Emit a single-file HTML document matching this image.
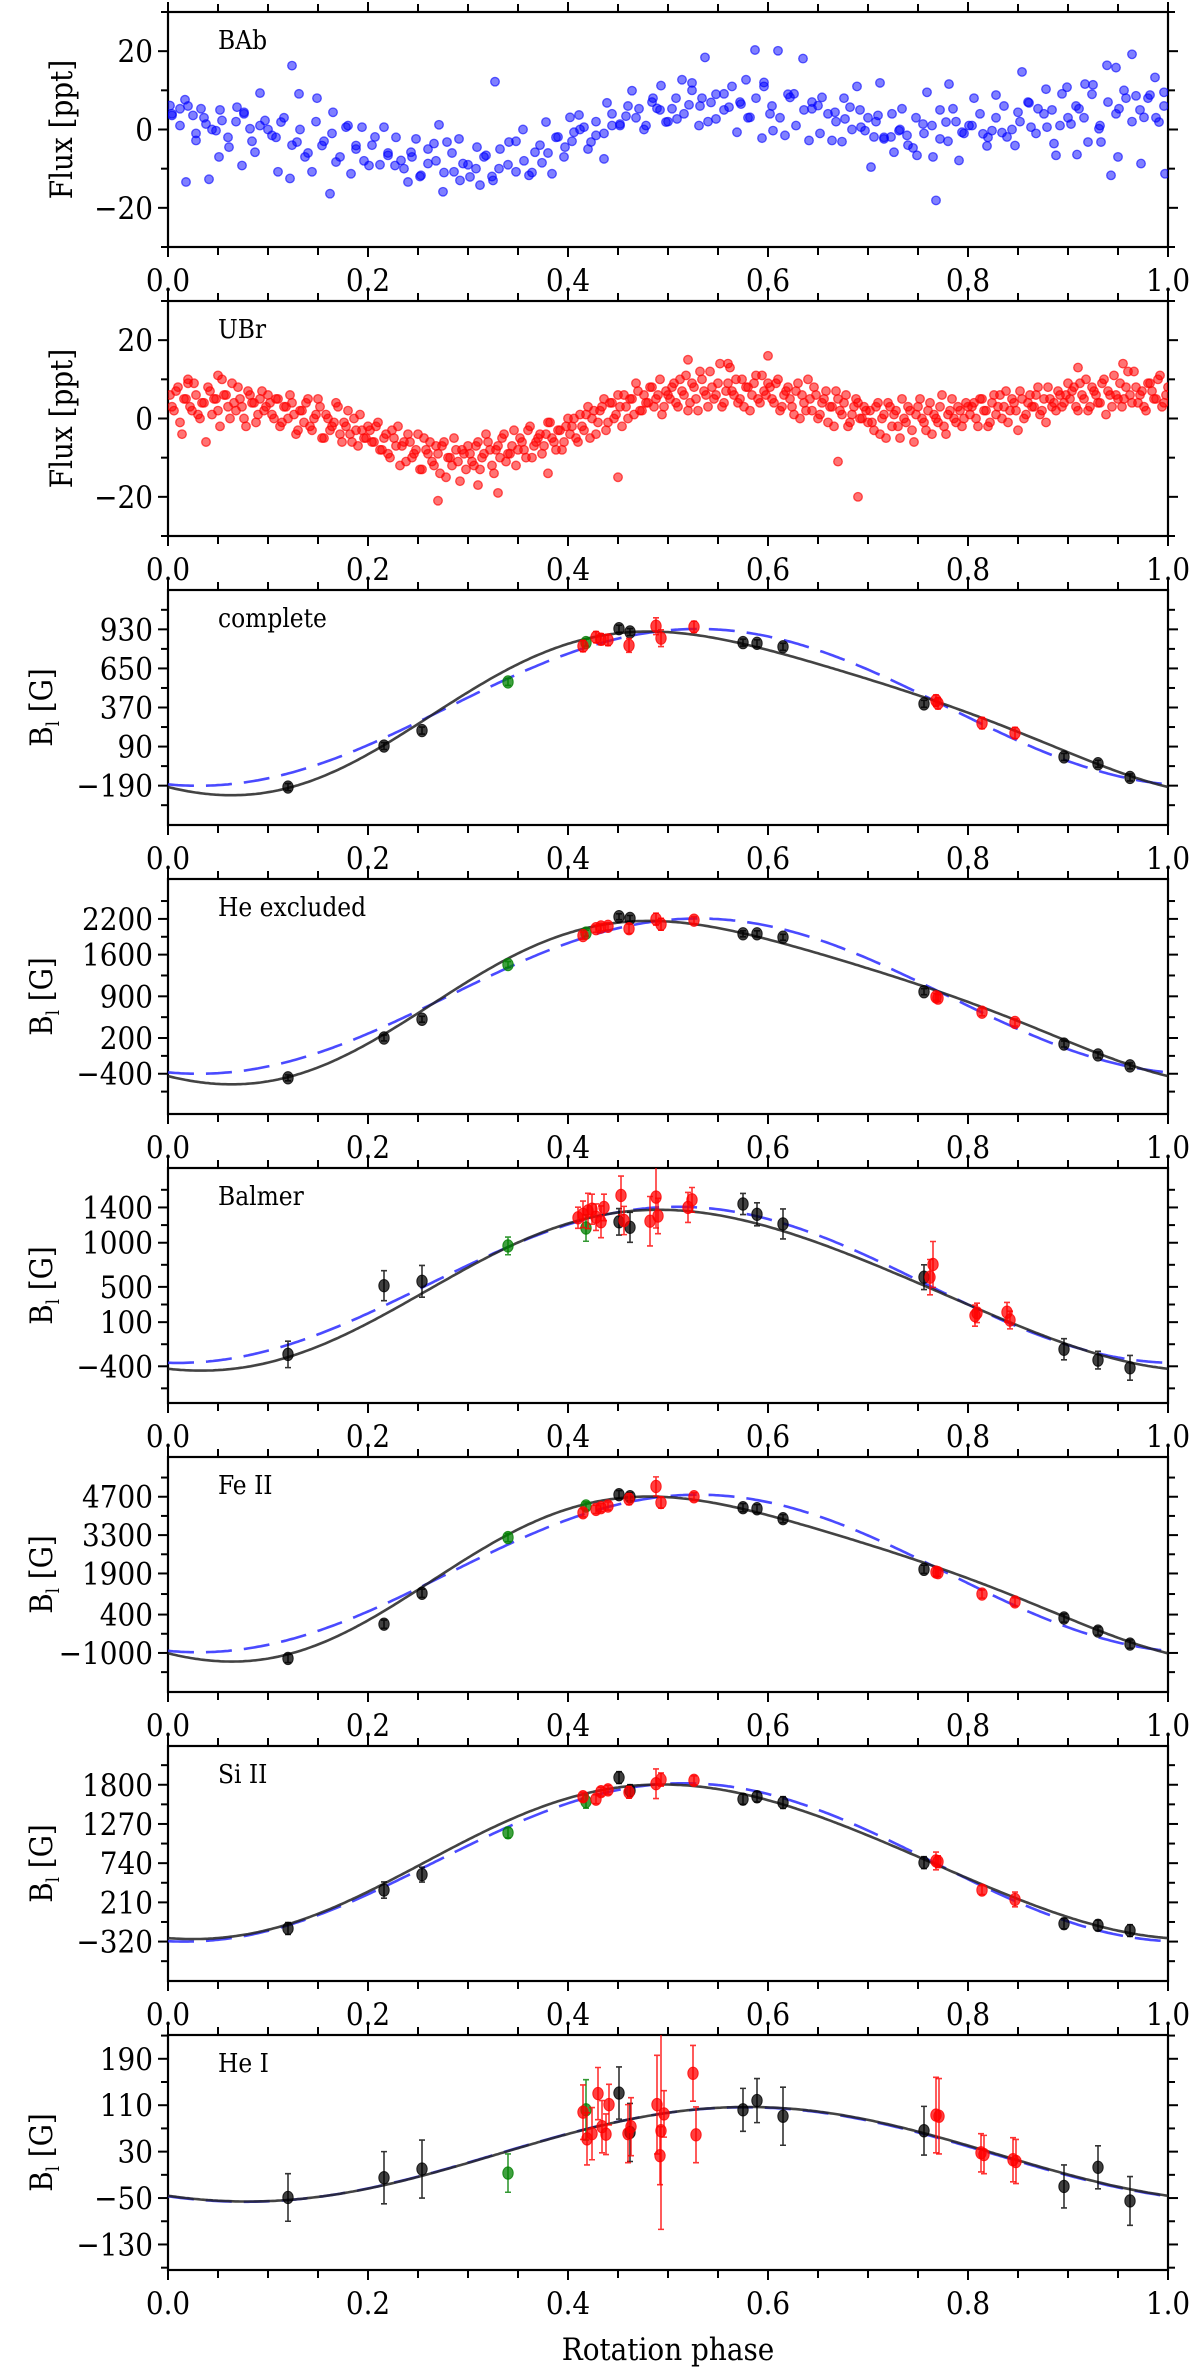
<!DOCTYPE html>
<html><head><meta charset="utf-8"><style>
html,body{margin:0;padding:0;background:#fff;}
svg{display:block;font-family:"DejaVu Serif Condensed","DejaVu Serif","Liberation Serif",serif;}
</style></head><body>
<svg id="fig" width="1200" height="2370" viewBox="0 0 1200 2370" xmlns="http://www.w3.org/2000/svg"></svg>
<script>
// ---------- DATA ----------
const xTickLabels = ["0.0","0.2","0.4","0.6","0.8","1.0"];
const panelNames = ["BAb","UBr","complete","He excluded","Balmer","Fe II","Si II","He I"];
const fluxTicks = [-20,0,20];
const fluxTickLabels = ["\u221220","0","20"];

// BAb photometry (phase, flux ppt)
const babPhase = [0.002,0.004,0.017,0.012,0.018,0.025,0.028,0.033,0.038,0.041,0.048,0.051,0.054,0.061,0.069,0.074,0.076,0.082,0.087,0.092,0.097,0.104,0.11,0.113,0.122,0.124,0.129,0.131,0.137,0.144,0.149,0.154,0.162,0.165,0.168,0.178,0.183,0.188,0.194,0.201,0.207,0.216,0.22,0.227,0.233,0.24,0.243,0.248,0.253,0.26,0.266,0.271,0.275,0.279,0.286,0.291,0.295,0.302,0.309,0.312,0.318,0.325,0.327,0.331,0.341,0.348,0.355,0.361,0.367,0.374,0.378,0.384,0.39,0.397,0.402,0.406,0.411,0.416,0.423,0.428,0.436,0.439,0.444,0.452,0.458,0.464,0.471,0.478,0.485,0.489,0.493,0.498,0.504,0.509,0.514,0.521,0.524,0.531,0.534,0.537,0.543,0.548,0.556,0.561,0.569,0.573,0.578,0.582,0.587,0.594,0.596,0.602,0.605,0.61,0.617,0.622,0.626,0.635,0.641,0.644,0.65,0.654,0.664,0.667,0.674,0.677,0.682,0.689,0.693,0.697,0.703,0.706,0.71,0.712,0.716,0.723,0.726,0.731,0.734,0.739,0.745,0.749,0.755,0.759,0.765,0.768,0.772,0.778,0.781,0.785,0.791,0.794,0.801,0.806,0.815,0.819,0.824,0.828,0.834,0.839,0.847,0.85,0.854,0.861,0.863,0.87,0.878,0.879,0.886,0.888,0.894,0.899,0.903,0.909,0.911,0.917,0.92,0.925,0.931,0.933,0.939,0.943,0.948,0.95,0.951,0.958,0.964,0.968,0.973,0.976,0.982,0.987,0.991,0.996,0.997];
const babFlux = [6.1,3.6,7.6,5.3,-13.4,3.6,-2.8,5.3,1.4,-12.7,-0.3,-7.0,2.3,-4.5,5.7,-9.2,4.4,0.2,-5.8,9.3,2.3,-1.5,-10.8,1.9,-12.5,16.3,-3.2,9.1,-7.0,-10.8,8.0,-4.1,-16.4,4.4,-8.3,0.6,-11.3,-4.1,0.6,-9.2,-1.9,0.6,-6.6,-9.2,-7.9,-13.4,-5.8,-2.4,-11.7,-8.7,-3.6,1.2,-15.9,-3.2,-10.8,-2.4,-8.7,-12.1,-4.5,-14.2,-6.6,-13.0,12.2,-10.0,-3.2,-10.8,0.0,-11.7,-5.8,-8.5,1.9,-11.3,-1.9,-4.5,3.1,-0.7,3.7,0.6,-3.2,-1.5,-7.5,6.8,1.0,1.4,3.4,9.9,5.3,1.0,8.0,5.4,11.2,1.9,5.3,2.7,12.7,6.3,11.9,1.0,8.0,18.4,6.9,2.7,9.1,5.7,-0.7,6.5,12.7,3.1,20.3,-2.2,11.0,4.0,-0.3,20.1,-1.5,8.2,9.1,18.1,-2.8,5.3,6.1,8.2,-2.8,4.4,-3.1,2.7,5.7,11.0,0.6,-0.3,-9.6,-1.9,3.6,11.9,-2.4,-1.9,-5.8,-0.3,5.3,-1.5,-4.7,-6.6,1.4,9.5,-7.0,-18.1,-2.4,1.9,11.6,5.3,-7.9,-0.7,1.0,8.0,-1.1,-4.2,-0.3,8.8,-0.8,-1.9,-4.1,4.4,14.7,6.8,0.6,5.3,10.3,0.6,-3.6,-6.6,9.1,10.8,1.4,-6.4,5.3,11.6,-3.2,11.4,0.2,-3.2,16.4,-11.7,15.8,-7.0,5.3,8.0,19.2,8.6,-8.7,3.1,8.8,13.3,1.9,9.5,-11.3];
// BAb second, evenly sampled pass
const babStartB = 0.004, babStepB = 0.008;
const babFluxB = [4,1,6,-1,3,0,5,-2,2,4,-3,1,0,
-2,3,-4,0,-6,2,-3,-1,-7,1,-5,-8,
-4,-9,-6,-2,-10,-7,-12,-5,-8,-11,-6,-13,-9,
-10,-7,-12,-5,-9,-3,-8,-11,-4,-6,-2,-7,
-3,0,-5,2,-1,4,1,6,3,0,7,5,2,
8,4,10,6,2,9,5,11,7,3,8,12,
6,3,9,1,5,7,-1,4,2,8,0,5,3,
2,-2,4,0,-4,3,-1,1,5,-3,2,-1,
1,4,-2,3,6,0,2,7,-1,4,5,1,3,
6,3,9,1,7,4,10,2,5,8,3,6];

// UBr photometry: two interleaved passes (phase start, step) + flux per point, plus outliers
const ubrStartA = 0.002, ubrStartB = 0.004, ubrStep = 0.004;
const ubrFluxA = [6,2,8,-4,5,3,9,1,4,-6,7,5,2,10,6,0,4,8,3,-2,6,4,1,7,3,
4,0,5,-1,3,6,1,-3,2,4,-2,0,5,-5,1,-3,-1,3,-6,-2,-4,0,-7,-3,-5,
-3,-6,-1,-8,-4,-10,-5,-2,-7,-11,-6,-9,-4,-13,-8,-6,-12,-9,-7,-15,-10,-5,-11,-8,-13,
-9,-12,-6,-10,-4,-8,-14,-7,-5,-11,-9,-3,-8,-6,-10,-2,-7,-5,-9,-4,-1,-6,-3,-8,-2,
-4,0,-6,-2,1,-5,2,-1,3,-3,4,0,6,-2,3,5,1,7,2,4,8,3,6,1,7,
5,9,3,7,11,4,8,2,10,6,12,5,9,3,7,13,6,4,10,8,2,9,5,11,6,
8,4,10,3,7,5,1,9,6,2,5,8,0,4,7,3,-2,5,1,6,-1,3,4,0,2,
2,-3,4,0,-5,3,1,-2,5,-1,2,-6,3,0,-3,4,1,-1,6,-4,2,0,3,-2,4,
1,4,-2,5,2,-1,6,3,0,7,2,4,-3,5,1,6,3,8,2,-1,5,4,7,3,6,
5,8,2,6,10,3,7,4,9,1,6,11,5,3,8,6,12,4,7,2,9,5,10,3,6];
const ubrFluxB = [3,7,-1,5,9,2,6,0,4,8,1,5,-2,6,3,9,2,5,0,7,4,-1,5,2,6,
1,5,-2,3,0,4,-4,2,-1,5,-3,1,3,-5,0,-2,4,-4,-1,2,-6,-3,1,-5,-2,
-6,-2,-8,-5,-9,-3,-7,-12,-6,-4,-10,-8,-13,-5,-9,-11,-7,-14,-6,-10,-12,-8,-16,-9,-7,
-11,-7,-13,-9,-6,-12,-8,-10,-4,-9,-7,-12,-5,-8,-3,-10,-6,-4,-7,-1,-5,-8,-3,-6,0,
-2,-5,1,-3,3,0,-4,2,5,-1,4,1,3,6,0,5,9,2,6,4,8,5,10,3,6,
8,4,10,6,2,9,5,12,7,3,8,6,14,4,9,7,10,5,3,8,6,11,4,7,9,
5,9,2,6,8,3,7,0,4,10,2,6,1,5,-1,3,7,2,4,-2,1,5,0,3,-1,
-1,3,-4,1,4,-2,2,-5,0,3,-3,1,5,-1,2,-4,0,3,-2,1,5,-1,2,0,3,
3,0,5,2,-2,4,1,6,3,-1,5,2,7,0,4,3,6,1,5,8,3,2,6,4,9,
7,3,9,5,2,8,6,4,10,7,3,6,9,5,12,4,8,6,3,9,7,5,11,4,8];
const ubrOutPhase = [0.27,0.33,0.31,0.45,0.69,0.52,0.6,0.56,0.91,0.955,0.67,0.38,0.05,0.02];
const ubrOutFlux = [-21,-19,-17,-15,-20,15,16,14,13,14,-11,-14,11,10];

// Magnetic field panels
const bTickLabels = [
  [930,650,370,90,-190],
  [2200,1600,900,200,-400],
  [1400,1000,500,100,-400],
  [4700,3300,1900,400,-1000],
  [1800,1270,740,210,-320],
  [190,110,30,-50,-130]];
const bDomains = [[-472,1212],[-1076,2870],[-816,1847],[-2425,6150],[-853,2324],[-174,231]];

const blackPhase = [0.12,0.216,0.254,0.451,0.462,0.575,0.589,0.615,0.756,0.896,0.93,0.962];
const greenPhase = [0.34,0.418];
const redPhaseMain = [0.415,0.428,0.433,0.44,0.461,0.488,0.493,0.526,0.768,0.77,0.814,0.847];

const blackVal = [
  [-200,94,205,935,911,835,830,805,396,16,-33,-131],
  [-469,200,515,2236,2207,1950,1950,1892,977,99,-84,-268],
  [-265,513,563,1237,1175,1439,1322,1213,610,-207,-330,-417],
  [-1200,50,1175,4775,4700,4300,4262,3900,2050,275,-200,-675],
  [-143,376,585,1897,1721,1605,1638,1559,747,-78,-101,-171],
  [-49,-15,0,131,63,102,118,91,66,-30,3,-55]];
const blackErr = [
  [25,25,25,25,25,25,25,25,25,25,25,25],
  [50,50,50,50,50,50,50,50,50,50,50,50],
  [150,170,180,150,170,120,130,170,140,120,100,140],
  [150,150,150,150,150,150,150,150,150,150,150,150],
  [80,110,100,80,80,70,70,80,80,70,70,80],
  [41,45,50,45,50,37,38,50,42,37,37,42]];
const greenVal = [[553,835],[1433,1961],[964,1167],[3212,4362],[1151,1573],[-7,102]];
const greenErr = [[25,25],[50,50],[100,150],[150,150],[70,90],[33,52]];

const redPhase = [
  redPhaseMain, redPhaseMain,
  [0.41,0.415,0.42,0.424,0.428,0.433,0.436,0.453,0.456,0.482,0.488,0.49,0.52,0.524,0.762,0.765,0.807,0.809,0.839,0.842],
  redPhaseMain, redPhaseMain,
  [0.415,0.419,0.424,0.43,0.434,0.438,0.441,0.46,0.463,0.489,0.493,0.492,0.496,0.525,0.528,0.768,0.771,0.813,0.816,0.845,0.848]];
const redVal = [
  [810,874,859,854,815,953,867,948,420,400,258,187],
  [1920,2035,2064,2075,2035,2196,2110,2179,891,870,633,461],
  [1283,1322,1360,1380,1290,1237,1400,1536,1252,1244,1517,1303,1400,1486,610,754,174,205,213,124],
  [4112,4237,4300,4362,4612,5075,4487,4700,1950,1930,1150,862],
  [1638,1605,1707,1731,1698,1814,1870,1860,770,760,376,250],
  [98,52,61,130,73,60,111,61,73,111,66,23,95,165,59,93,91,28,25,16,13]];
const redErr = [
  [40,40,40,40,50,60,60,40,40,40,40,40],
  [60,60,60,60,80,100,100,60,60,60,60,60],
  [120,150,200,170,150,180,150,220,160,280,350,200,170,140,200,260,120,110,110,100],
  [150,150,150,150,200,350,200,150,150,150,150,150],
  [60,60,60,60,80,200,90,60,120,80,60,100],
  [47,45,45,45,45,35,35,50,50,85,170,50,40,48,48,65,65,33,33,38,38]];

// Model fits: [c0, c1(cos), s1(sin), c2(cos2), s2(sin2)]
const fitBlack = [
  [355,-555,-103,0,-87],
  [858,-1298,-241,0,-204],
  [472,-900,-72,0,-63],
  [1836,-2848,-530,0,-447],
  [765,-1038,-62,0,-52],
  [25.5,-71.5,-39,0,0]];
const fitBlue = [
  [371,-552,-105],
  [903,-1280,-246],
  [523,-883,-53],
  [1900,-2823,-541],
  [750,-1065,-107],
  [25,-72,-38]];

// ---------- LAYOUT ----------
const NS = "http://www.w3.org/2000/svg";
const svg = document.getElementById("fig");
const L = 168, R = 1168, PH = 235, PITCH = 289, TOP0 = 12;
function mk(tag, attrs, parent){ const e=document.createElementNS(NS,tag); for(const k in attrs) e.setAttribute(k,attrs[k]); (parent||svg).appendChild(e); return e; }
function xs(p){ return L + p*(R-L); }

function drawAxes(i, yDom, majors, labels, minors, g){
  const top = TOP0 + i*PITCH, bot = top + PH;
  const ys = v => bot - (v - yDom[0])/(yDom[1]-yDom[0])*PH;
  for(let k=0;k<=20;k++){
    const p=k*0.05, x=xs(p), major=(k%4===0), len=major?10:8;
    const t1=mk("line",{x1:x,x2:x,y1:bot,y2:bot+len,stroke:"#000","stroke-width":2},g);
    
    
    const t2=mk("line",{x1:x,x2:x,y1:top,y2:top-len,stroke:"#000","stroke-width":2},g);
    
    
  }
  xTickLabels.forEach((s,k)=>{
    const t=mk("text",{x:xs(k*0.2),y:bot+44,"text-anchor":"middle","font-size":31},g);
    t.textContent=s;
    
    
  });
  minors.forEach(v=>{ if(v<yDom[0]||v>yDom[1]) return; const y=ys(v);
    const a=mk("line",{x1:L-7,x2:L,y1:y,y2:y,stroke:"#000","stroke-width":2},g);
    
    
    const b=mk("line",{x1:R,x2:R+7,y1:y,y2:y,stroke:"#000","stroke-width":2},g);
    
    
  });
  majors.forEach((v,k)=>{ const y=ys(v);
    const a=mk("line",{x1:L-10,x2:L,y1:y,y2:y,stroke:"#000","stroke-width":2},g);
    
    
    const b=mk("line",{x1:R,x2:R+10,y1:y,y2:y,stroke:"#000","stroke-width":2},g);
    
    
    const t=mk("text",{x:L-15,y:y+11,"text-anchor":"end","font-size":31},g);
    t.textContent=labels[k];
    
    
  });
  const fr=mk("rect",{x:L,y:top,width:R-L,height:PH,fill:"none",stroke:"#000","stroke-width":2.2},g);
  
  
  const nm=mk("text",{x:218,y:top+37,"font-size":26},g);
  nm.textContent=panelNames[i];
  
  
  return ys;
}

function clipFor(i){
  const top = TOP0 + i*PITCH;
  const cp=mk("clipPath",{id:"clip"+i});
  mk("rect",{x:L,y:top,width:R-L,height:PH},cp);
  return "url(#clip"+i+")";
}

// ---------- FLUX PANELS ----------
function fluxPanel(i, name, color, phases, fluxes, op){
  const g=mk("g",{});
  
  
  const ys=drawAxes(i,[-30,30],fluxTicks,fluxTickLabels,[-30,-10,10,30],g);
  const top = TOP0 + i*PITCH;
  const yl=mk("text",{x:0,y:0,"font-size":31,"text-anchor":"middle",transform:`translate(72,${top+PH/2}) rotate(-90)`},g);
  yl.textContent="Flux [ppt]";
  
  
  const pts=mk("g",{"clip-path":clipFor(i)},g);
  phases.forEach((p,k)=>{
    const c=mk("circle",{cx:xs(p),cy:ys(fluxes[k]),r:4.3,fill:color,"fill-opacity":op,stroke:color,"stroke-opacity":op+0.1,"stroke-width":1.3},pts);
    
    
  });
}
const babP = babPhase.slice(), babF = babFlux.slice();
babFluxB.forEach((f,k)=>{babP.push(babStartB+k*babStepB); babF.push(f);});
fluxPanel(0,"bab-panel","#0000ff",babP,babF,0.5);
const ubrP=[], ubrF=[];
ubrFluxA.forEach((f,k)=>{ubrP.push(ubrStartA+k*ubrStep); ubrF.push(f);});
ubrFluxB.forEach((f,k)=>{ubrP.push(ubrStartB+k*ubrStep); ubrF.push(f);});
ubrOutPhase.forEach((p,k)=>{ubrP.push(p); ubrF.push(ubrOutFlux[k]);});
fluxPanel(1,"ubr-panel","#ff0000",ubrP,ubrF,0.55);

// ---------- FIELD PANELS ----------
function evalFit(c,p){ const x=2*Math.PI*p; return c[0]+c[1]*Math.cos(x)+c[2]*Math.sin(x)+(c[3]||0)*Math.cos(2*x)+(c[4]||0)*Math.sin(2*x); }
function pointsWithErr(grp, phases, vals, errs, ys, fill, name){
  phases.forEach((p,k)=>{
    const x=xs(p), y=ys(vals[k]), y1=ys(vals[k]-errs[k]), y2=ys(vals[k]+errs[k]);
    const e=mk("path",{d:`M${x},${y1}V${y2}M${x-3},${y1}H${x+3}M${x-3},${y2}H${x+3}`,stroke:fill,"stroke-width":1.6,fill:"none","stroke-opacity":0.8},grp);
    
    
    const c=mk("ellipse",{cx:x,cy:y,rx:5.2,ry:6.2,fill:fill,"fill-opacity":0.75,stroke:fill,"stroke-opacity":0.8,"stroke-width":1},grp);
    
    
  });
}
for(let j=0;j<6;j++){
  const i=j+2, g=mk("g",{});
  
  
  const t=bTickLabels[j], dom=bDomains[j];
  const minors=[];
  for(let k=0;k<t.length-1;k++) minors.push((t[k]+t[k+1])/2);
  minors.push(t[0]+(t[0]-t[1])/2); minors.push(t[t.length-1]-(t[t.length-2]-t[t.length-1])/2);
  const labels=t.map(v=>v<0?"\u2212"+(-v):String(v));
  const ys=drawAxes(i,dom,t,labels,minors,g);
  const top = TOP0 + i*PITCH;
  const yl=mk("text",{x:0,y:0,"font-size":31,"text-anchor":"middle",transform:`translate(52,${top+PH/2}) rotate(-90)`},g);
  
  
  const t1=mk("tspan",{},yl); t1.textContent="B";
  const t2=mk("tspan",{"font-size":18,dy:7},yl); t2.textContent="l";
  const t3=mk("tspan",{dy:-7},yl); t3.textContent=" [G]";
  const inner=mk("g",{"clip-path":clipFor(i)},g);
  let dB="", dK="";
  for(let s=0;s<=400;s++){ const p=s/400;
    dB+=(s?"L":"M")+xs(p).toFixed(1)+","+ys(evalFit(fitBlue[j],p)).toFixed(1);
    dK+=(s?"L":"M")+xs(p).toFixed(1)+","+ys(evalFit(fitBlack[j],p)).toFixed(1); }
  const bl=mk("path",{d:dB,fill:"none",stroke:"#2a2aff","stroke-width":2.6,"stroke-dasharray":"26,12","stroke-opacity":0.85},inner);
  
  
  const kl=mk("path",{d:dK,fill:"none",stroke:"#222","stroke-width":2.6,"stroke-opacity":0.85},inner);
  
  
  pointsWithErr(inner,blackPhase,blackVal[j],blackErr[j],ys,"#000000","black");
  pointsWithErr(inner,greenPhase,greenVal[j],greenErr[j],ys,"#008000","green");
  pointsWithErr(inner,redPhase[j],redVal[j],redErr[j],ys,"#ff0000","red");
}
const xt=mk("text",{x:668,y:2360,"text-anchor":"middle","font-size":31});
xt.textContent="Rotation phase";


</script>
</body></html>
